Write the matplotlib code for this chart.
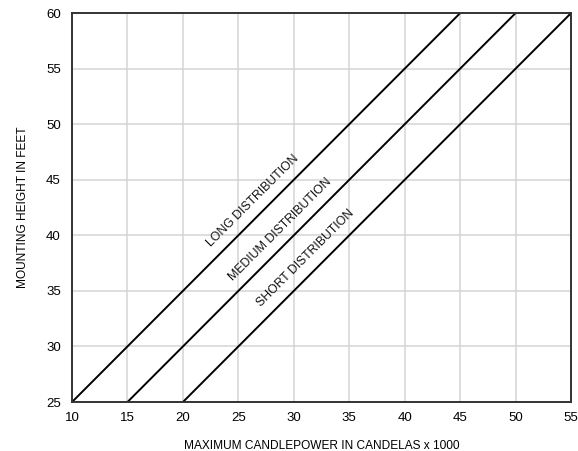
import matplotlib
matplotlib.use("Agg")
import matplotlib.pyplot as plt

# straight lines: candlepower (x1000) at 25 ft and at 60 ft
names = ["LONG DISTRIBUTION", "MEDIUM DISTRIBUTION", "SHORT DISTRIBUTION"]
x_start = [10, 15, 20]
x_end = [45, 50, 55]
heights = [25, 60]
label_pos = [(26.3, 43.1), (28.8, 40.5), (31.1, 37.95)]

x_ticks = list(range(10, 56, 5))
y_ticks = list(range(25, 61, 5))

plt.rcParams['font.family'] = ['Liberation Sans', 'DejaVu Sans']

fig = plt.figure(figsize=(5.78, 4.51), dpi=100)
ax = fig.add_axes([0.1246, 0.1086, 0.8634, 0.8624])

for xs, xe in zip(x_start, x_end):
    ax.plot([xs, xe], heights, color="black", lw=1.4, solid_capstyle="butt")

for name, (tx, ty) in zip(names, label_pos):
    ax.text(tx, ty, name, rotation=45, ha="center", va="center",
            fontsize=8.8, color="#111111", rotation_mode="anchor")

ax.set_xlim(10, 55)
ax.set_ylim(25, 60)
ax.set_xticks(x_ticks)
ax.set_yticks(y_ticks)
ax.grid(True, color="#d4d4d4", lw=1.1)
ax.set_axisbelow(True)
ax.tick_params(length=0, labelsize=9.5, color="#111111")
ax.tick_params(axis="x", pad=7)
ax.tick_params(axis="y", pad=8)
for s in ax.spines.values():
    s.set_color("#333333")
    s.set_linewidth(1.4)

ax.set_xlabel("MAXIMUM CANDLEPOWER IN CANDELAS x 1000", fontsize=8.6, labelpad=12)
ax.set_ylabel("MOUNTING HEIGHT IN FEET", fontsize=8.6, labelpad=12)

fig.savefig("out.png", dpi=100)
